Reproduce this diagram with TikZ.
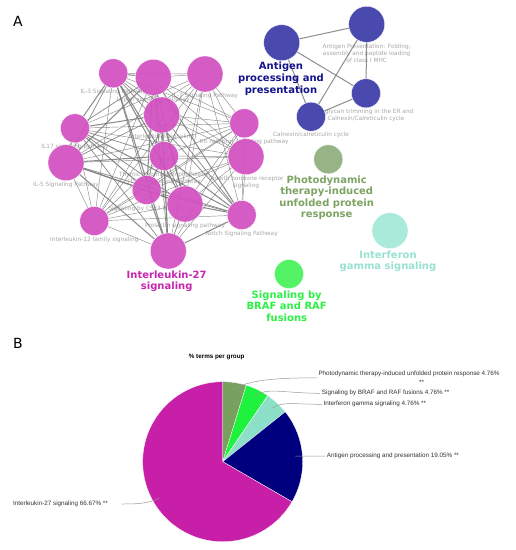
\documentclass[tikz,border=0pt]{standalone}
\usepackage{fontspec}
\setmainfont{DejaVu Sans}
\newfontfamily\piefont{Liberation Sans}
\usetikzlibrary{positioning}
\definecolor{ilmag}{HTML}{D24FC1}
\definecolor{agblue}{HTML}{3A3AA8}
\definecolor{pdgreen}{HTML}{8FAE7D}
\definecolor{brafgreen}{HTML}{46F35A}
\definecolor{ifnaqua}{HTML}{A3E9D8}
\definecolor{iltext}{HTML}{C626AE}
\definecolor{agtext}{HTML}{14148C}
\definecolor{pdtext}{HTML}{7DA363}
\definecolor{braftext}{HTML}{2DF046}
\definecolor{ifntext}{HTML}{98E2D0}
\definecolor{piemag}{HTML}{C71FA8}
\definecolor{pienavy}{HTML}{00007F}
\definecolor{pieaqua}{HTML}{8DE0C8}
\definecolor{piegreen}{HTML}{1FF23E}
\definecolor{piegg}{HTML}{78A05F}
\definecolor{labgray}{HTML}{A8A8A8}
\definecolor{piegray}{HTML}{333333}
\definecolor{leadgray}{HTML}{9A9A9A}
\pgfdeclarelayer{labels}
\pgfdeclarelayer{edges}
\pgfsetlayers{labels,edges,main}
\tikzset{
  term/.style={circle, draw=white, line width=0.3pt, fill opacity=0.92, inner sep=0pt},
  termlab/.style={font=\fontsize{5.8}{7.2}\selectfont, text=labgray, align=center, inner sep=0pt},
  grouplab/.style={font=\bfseries\fontsize{10}{11.6}\selectfont, align=center, inner sep=0pt},
  link/.style={draw=black!52, opacity=0.85, line width=#1},
  pielab/.style={font=\piefont\fontsize{6.3}{7.5}\selectfont, text=piegray, inner ysep=0pt, inner xsep=1.5pt},
  leader/.style={draw=leadgray, line width=0.5pt},
  slice/.style={draw=white, line width=0.3pt}
}

\begin{document}
\begin{tikzpicture}[x=1pt, y=-1pt]
  \useasboundingbox (0,0) rectangle (516,550);
  \begin{pgfonlayer}{labels}
    \fill[white] (0,0) rectangle (516,550);
  \end{pgfonlayer}

  \node[font=\fontsize{14}{16}\selectfont, inner sep=0pt] (pa) at (18,21) {A};
  \node[font=\fontsize{14}{16}\selectfont, inner sep=0pt] (pb) at (18,343) {B};

  % Interleukin-27 group
  \foreach \n/\x/\y/\r/\t in {
    1/113.3/73.3/14.5/{IL-3 Signaling Pathway},
    2/153.3/77.3/18/{Leptin signaling pathway},
    3/205/74/18/{IL-7 Signaling Pathway},
    4/161.7/115/18/{Interleukin-6 signaling},
    5/75/128.3/14.5/{IL17 signaling pathway},
    6/244.3/123.3/14.5/{Kit receptor signaling pathway},
    7/66/162.7/18/{IL-5 Signaling Pathway},
    8/164/156/14.5/{Thymic Stromal LymphoPoietin\\(TSLP) Signaling Pathway},
    9/246/156.7/18/{Growth hormone receptor\\signaling},
    10/146.7/190/14.5/{Signaling by CSF3 (G-CSF)},
    11/185/204/18/{Prolactin signaling pathway},
    12/94.3/221/14.5/{Interleukin-12 family signaling},
    13/241.7/215/14.5/{Notch Signaling Pathway}} {
    \node[term, fill=ilmag, minimum size=2*\r] (m\n) at (\x,\y) {};
    \begin{pgfonlayer}{labels}
      \node[termlab, below=1pt of m\n] {\t};
    \end{pgfonlayer}
  }
  \node[term, fill=ilmag, minimum size=36] (m14) at (168.3,251) {};
  \node[grouplab, text=iltext] (ilname) at (166.7,281.2) {Interleukin-27\\signaling};

  \begin{pgfonlayer}{edges}
    \foreach \i in {1,...,13} {
      \pgfmathtruncatemacro\k{\i+1}
      \foreach \j in {\k,...,14} {
        \pgfmathsetmacro\w{0.45+0.3*mod(\i*\j,3)}
        \draw[link=\w pt] (m\i) -- (m\j);
      }
    }
  \end{pgfonlayer}

  % Antigen processing group
  \node[term, fill=agblue, minimum size=36] (b1) at (281.7,42.7) {};
  \node[term, fill=agblue, minimum size=36] (b2) at (366.7,24.3) {};
  \node[term, fill=agblue, minimum size=29] (b3) at (366,93.3) {};
  \node[term, fill=agblue, minimum size=29] (b4) at (311,116.7) {};
  \begin{pgfonlayer}{labels}
    \node[termlab, below=1pt of b2] {Antigen Presentation: Folding,\\assembly and peptide loading\\of class I MHC};
    \node[termlab, below=1pt of b3] {N-glycan trimming in the ER and\\Calnexin/Calreticulin cycle};
    \node[termlab, below=1pt of b4] {Calnexin/calreticulin cycle};
  \end{pgfonlayer}
  \begin{pgfonlayer}{edges}
    \foreach \a/\b in {b1/b2, b1/b3, b1/b4, b2/b3, b2/b4, b3/b4}
      \draw[link=1pt] (\a) -- (\b);
  \end{pgfonlayer}
  \node[grouplab, text=agtext] (agname) at (281,78.7) {Antigen\\processing and\\presentation};

  % single term groups
  \node[term, fill=pdgreen, minimum size=29] (pd) at (328.3,159.3) {};
  \node[grouplab, text=pdtext] (pdname) at (326.7,197.7) {Photodynamic\\therapy-induced\\unfolded protein\\response};
  \node[term, fill=ifnaqua, minimum size=36] (ifn) at (390,230.7) {};
  \node[grouplab, text=ifntext] (ifnname) at (388,261.2) {Interferon\\gamma signaling};
  \node[term, fill=brafgreen, minimum size=29] (braf) at (289,274) {};
  \node[grouplab, text=braftext] (brafname) at (286.7,306) {Signaling by\\BRAF and RAF\\fusions};

  % B: pie
  \node[pielab, font=\piefont\bfseries\fontsize{6.3}{7.5}\selectfont, text=black] (pietitle) at (216.7,356.7) {\% terms per group};
  \begin{scope}[shift={(222.7,461.7)}, x=1pt, y=1pt]
    \fill[piegg, slice] (0,0) -- (90:80) arc[start angle=90, end angle=72.864, radius=80] -- cycle;
    \fill[piegreen, slice] (0,0) -- (72.864:80) arc[start angle=72.864, end angle=55.728, radius=80] -- cycle;
    \fill[pieaqua, slice] (0,0) -- (55.728:80) arc[start angle=55.728, end angle=38.592, radius=80] -- cycle;
    \fill[pienavy, slice] (0,0) -- (38.592:80) arc[start angle=38.592, end angle=-30, radius=80] -- cycle;
    \fill[piemag, slice] (0,0) -- (-30:80) arc[start angle=-30, end angle=-270, radius=80] -- cycle;
    \coordinate (pdS) at (81.43:73);
    \coordinate (brafS) at (64.29:73);
    \coordinate (ifnS) at (47.16:73);
    \coordinate (agS) at (4.3:73);
    \coordinate (ilS) at (-150:73);
  \end{scope}

  \node[pielab, anchor=west] (pdlab) at (316.8,374.3) {Photodynamic therapy-induced unfolded protein response 4.76\%};
  \node[pielab, anchor=base] (pdstar) at (421.7,384.3) {**};
  \node[pielab, anchor=west] (braflab) at (320.2,393.3) {Signaling by BRAF and RAF fusions 4.76\% **};
  \node[pielab, anchor=west] (ifnlab) at (321.8,404.3) {Interferon gamma signaling 4.76\% **};
  \node[pielab, anchor=west] (aglab) at (325.2,456) {Antigen processing and presentation 19.05\% **};
  \node[pielab, anchor=east] (illab) at (109.5,504) {Interleukin-27 signaling 66.67\% **};

  \draw[leader] (pdS) .. controls +(14,-9) and +(-45,0) .. ([yshift=-3.5pt]pdlab.west);
  \draw[leader] (brafS) .. controls +(12,-9) and +(-35,0) .. (braflab.west);
  \draw[leader] (ifnS) .. controls +(10,-7) and +(-30,0) .. (ifnlab.west);
  \draw[leader] (agS) -- (aglab.west);
  \draw[leader] (ilS) .. controls +(-12,5) and +(20,0) .. ([xshift=12pt]illab.east);
\end{tikzpicture}
\end{document}
